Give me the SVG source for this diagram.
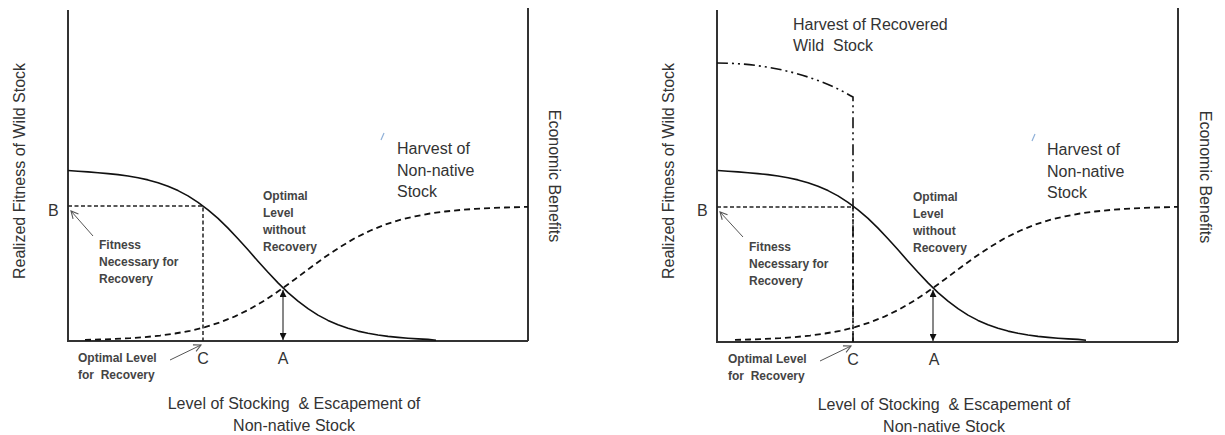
<svg xmlns="http://www.w3.org/2000/svg" width="1225" height="435" viewBox="0 0 1225 435">
<style>
.ax{fill:none;stroke:#333;stroke-width:2}
.fit{fill:none;stroke:#111;stroke-width:1.6;stroke-linejoin:round}
.harv{fill:none;stroke:#111;stroke-width:1.8;stroke-dasharray:6 4}
.guide{fill:none;stroke:#222;stroke-width:1.5;stroke-dasharray:4 2.5}
.dd{fill:none;stroke:#111;stroke-width:1.6;stroke-dasharray:11 4 2 4 2 4}
.ptr{fill:none;stroke:#555;stroke-width:1}
.big{font-family:"Liberation Sans",Arial,sans-serif;font-size:16px;fill:#333}
.sm{font-family:"Liberation Sans",Arial,sans-serif;font-size:12px;font-weight:bold;fill:#444}
.mid{text-anchor:middle}
.blue{stroke:#8fb0d8;stroke-width:1.2}
</style>
<defs>
<marker id="tri" viewBox="0 0 10 10" refX="10" refY="5" markerWidth="7" markerHeight="7" orient="auto-start-reverse" markerUnits="userSpaceOnUse"><path d="M0,0 L10,5 L0,10 z" fill="#111"/></marker>
<marker id="open" viewBox="0 0 10 10" refX="9" refY="5" markerWidth="9" markerHeight="9" orient="auto" markerUnits="userSpaceOnUse"><path d="M1,1 L9,5 L1,9" fill="none" stroke="#555" stroke-width="1.2"/></marker>
</defs>

<g id="panel-left">
  <g id="axes-left">
    <path class="ax" d="M68,10 L68,341 L528,341 M528,8 L528,341"/>
  </g>
  <g id="connectors-left">
    <path class="guide" d="M68,206 L203,206 L203,341"/>
    <path class="fit" d="M68,170.5 L78,171.2 L88,171.9 L98,172.7 L108,173.6 L118,174.6 L128,176 L138,177.7 L148,179.9 L158,182.7 L168,186.2 L178,190.6 L188,195.9 L198,202.3 L208,209.8 L218,218.4 L228,228.1 L238,238.7 L248,249.8 L258,261.2 L268,272.3 L278,282.9 L288,292.6 L298,301.2 L308,308.7 L318,315.1 L328,320.4 L338,324.8 L348,328.3 L358,331.1 L368,333.3 L378,335 L388,336.4 L398,337.4 L408,338.2 L418,338.9 L428,339.4 L436,340.2"/>
    <path class="harv" d="M85,339.9 L100,339.5 L115,338.9 L130,338.2 L145,337.1 L160,335.6 L175,333.5 L190,330.8 L205,327.2 L220,322.4 L235,316.4 L250,309 L265,300.2 L280,290.1 L295,279.2 L310,268 L325,257 L340,247 L355,238.1 L370,230.7 L385,224.6 L400,219.9 L415,216.3 L430,213.5 L445,211.5 L460,210 L475,208.9 L490,208.1 L505,207.5 L528,206.8"/>
    <line x1="283" y1="290" x2="283" y2="340" stroke="#111" stroke-width="1" marker-start="url(#tri)" marker-end="url(#tri)"/>
    <line class="ptr" x1="93" y1="236" x2="71" y2="211" marker-end="url(#open)"/>
    <line class="ptr" x1="170" y1="360" x2="201" y2="345" marker-end="url(#open)"/>
    <line class="blue" x1="381" y1="140" x2="384" y2="133"/>
  </g>
  <g id="labels-left">
    <text class="big" transform="translate(25,171) rotate(-90)" text-anchor="middle">Realized Fitness of Wild Stock</text>
    <text class="big" transform="translate(549,176) rotate(90)" text-anchor="middle">Economic Benefits</text>
    <text class="big" x="48" y="216">B</text>
    <text class="big mid" x="203" y="364">C</text>
    <text class="big mid" x="283" y="364">A</text>
    <text class="big" x="397"><tspan x="397" y="154">Harvest of</tspan><tspan x="397" y="176">Non-native</tspan><tspan x="397" y="197">Stock</tspan></text>
    <text class="sm"><tspan x="99" y="249">Fitness</tspan><tspan x="99" y="266">Necessary for</tspan><tspan x="99" y="283">Recovery</tspan></text>
    <text class="sm"><tspan x="263" y="200">Optimal</tspan><tspan x="263" y="217">Level</tspan><tspan x="263" y="234">without</tspan><tspan x="263" y="251">Recovery</tspan></text>
    <text class="sm" xml:space="preserve"><tspan x="78" y="362">Optimal Level</tspan><tspan x="78" y="379">for  Recovery</tspan></text>
    <text class="big mid" xml:space="preserve"><tspan x="294" y="409">Level of Stocking  &amp; Escapement of</tspan><tspan x="294" y="431">Non-native Stock</tspan></text>
  </g>
</g>

<g id="panel-right" transform="translate(650,0)">
  <g id="axes-right">
    <path class="ax" d="M67,10 L67,342 L528,342 M528,8 L528,342"/>
  </g>
  <g id="connectors-right">
    <path class="guide" d="M67,207 L203,207 L203,342"/>
    <path class="dd" d="M67,63 C110,63 160,72 203,97 L203,342"/>
    <path class="fit" d="M68,170.5 L78,171.2 L88,171.9 L98,172.7 L108,173.6 L118,174.6 L128,176 L138,177.7 L148,179.9 L158,182.7 L168,186.2 L178,190.6 L188,195.9 L198,202.3 L208,209.8 L218,218.4 L228,228.1 L238,238.7 L248,249.8 L258,261.2 L268,272.3 L278,282.9 L288,292.6 L298,301.2 L308,308.7 L318,315.1 L328,320.4 L338,324.8 L348,328.3 L358,331.1 L368,333.3 L378,335 L388,336.4 L398,337.4 L408,338.2 L418,338.9 L428,339.4 L436,340.2"/>
    <path class="harv" d="M85,339.9 L100,339.5 L115,338.9 L130,338.2 L145,337.1 L160,335.6 L175,333.5 L190,330.8 L205,327.2 L220,322.4 L235,316.4 L250,309 L265,300.2 L280,290.1 L295,279.2 L310,268 L325,257 L340,247 L355,238.1 L370,230.7 L385,224.6 L400,219.9 L415,216.3 L430,213.5 L445,211.5 L460,210 L475,208.9 L490,208.1 L505,207.5 L528,206.8"/>
    <line x1="283" y1="290" x2="283" y2="341" stroke="#111" stroke-width="1" marker-start="url(#tri)" marker-end="url(#tri)"/>
    <line class="ptr" x1="93" y1="237" x2="70" y2="212" marker-end="url(#open)"/>
    <line class="ptr" x1="170" y1="361" x2="201" y2="346" marker-end="url(#open)"/>
    <line class="blue" x1="382" y1="141" x2="385" y2="134"/>
  </g>
  <g id="labels-right">
    <text class="big" transform="translate(24,171) rotate(-90)" text-anchor="middle">Realized Fitness of Wild Stock</text>
    <text class="big" transform="translate(550,177) rotate(90)" text-anchor="middle">Economic Benefits</text>
    <text class="big" x="47" y="216">B</text>
    <text class="big mid" x="203" y="365">C</text>
    <text class="big mid" x="284" y="365">A</text>
    <text class="big" xml:space="preserve"><tspan x="143" y="30">Harvest of Recovered</tspan><tspan x="143" y="51">Wild  Stock</tspan></text>
    <text class="big"><tspan x="397" y="155">Harvest of</tspan><tspan x="397" y="177">Non-native</tspan><tspan x="397" y="198">Stock</tspan></text>
    <text class="sm"><tspan x="99" y="251">Fitness</tspan><tspan x="99" y="268">Necessary for</tspan><tspan x="99" y="285">Recovery</tspan></text>
    <text class="sm"><tspan x="263" y="201">Optimal</tspan><tspan x="263" y="218">Level</tspan><tspan x="263" y="235">without</tspan><tspan x="263" y="252">Recovery</tspan></text>
    <text class="sm" xml:space="preserve"><tspan x="78" y="363">Optimal Level</tspan><tspan x="78" y="380">for  Recovery</tspan></text>
    <text class="big mid" xml:space="preserve"><tspan x="294" y="410">Level of Stocking  &amp; Escapement of</tspan><tspan x="294" y="432">Non-native Stock</tspan></text>
  </g>
</g>
</svg>
